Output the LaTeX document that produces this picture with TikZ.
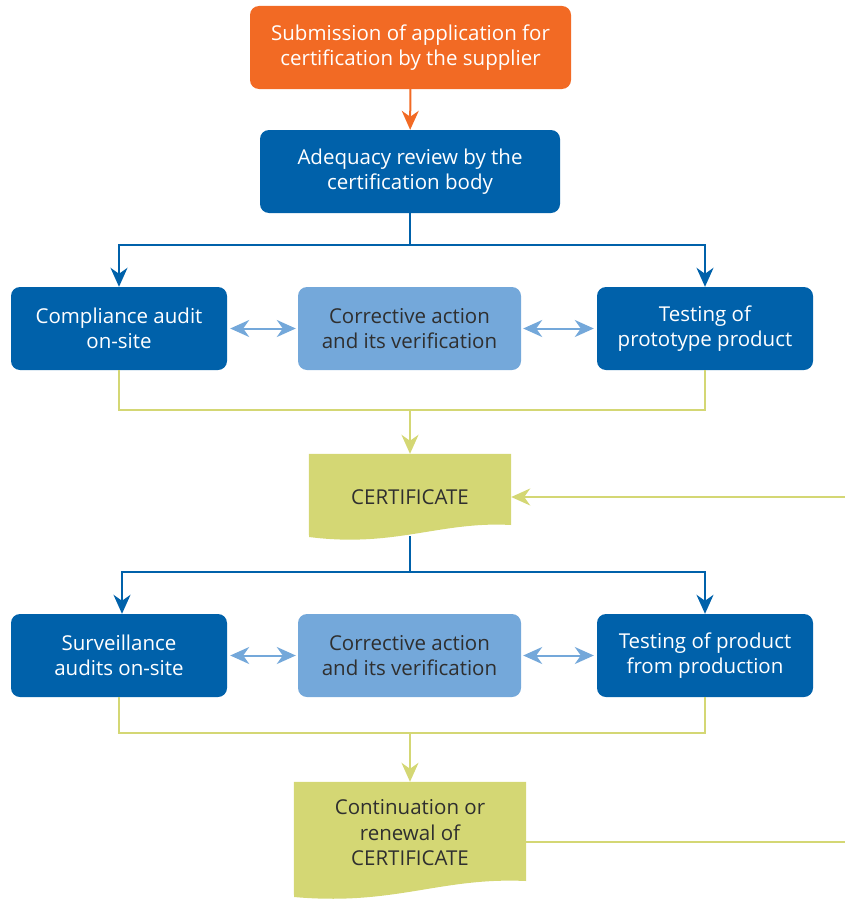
\documentclass[tikz,border=0pt]{standalone}
\usepackage{fontspec}
\setmainfont{Open Sans}
\usetikzlibrary{arrows.meta,backgrounds}
\definecolor{orangebox}{HTML}{F26A24}
\definecolor{darkbox}{HTML}{0061AA}
\definecolor{lightbox}{HTML}{74A8DA}
\definecolor{certbox}{HTML}{D4D774}
\definecolor{darktext}{HTML}{2F2F2F}
\tikzset{
  bigtip/.tip={Stealth[length=19pt,width=17pt,inset=6pt]},
  box/.style={rectangle, rounded corners=9pt, minimum height=83pt, align=center,
    font=\fontsize{20.5}{25.5}\selectfont, inner sep=2pt},
  orangestep/.style={box, fill=orangebox, text=white, minimum width=321pt},
  darkstep/.style={box, fill=darkbox, text=white, minimum width=216pt},
  lightstep/.style={box, fill=lightbox, text=darktext, minimum width=223pt},
  docnode/.style={rectangle, align=center, text=darktext,
    font=\fontsize{20.5}{25.5}\selectfont, inner sep=0pt},
  blueline/.style={draw=darkbox, line width=2pt},
  bluearrow/.style={blueline, -bigtip},
  orangearrow/.style={draw=orangebox, line width=2pt, -bigtip},
  yellowline/.style={draw=certbox, line width=2pt},
  yellowarrow/.style={yellowline, -bigtip},
  twoway/.style={draw=lightbox, line width=2pt, bigtip-bigtip},
}
\begin{document}
\begin{tikzpicture}[x=1pt,y=-1pt]
  \useasboundingbox (0,0) rectangle (845,899);
  % top of the chart
  \node[orangestep] (apply) at (410.5,47.5) {Submission of application for\\certification by the supplier};
  \node[darkstep, minimum width=300pt] (review) at (410,171.5) {Adequacy review by the\\certification body};
  % first row
  \node[darkstep] (audit) at (119,328.5) {Compliance audit\\on-site};
  \node[lightstep] (fix1) at (409.5,328.5) {Corrective action\\and its verification};
  \node[darkstep] (proto) at (705,328.5) {Testing of\\prototype product};
  % certificate
  \node[docnode, minimum width=202pt, minimum height=86pt] (cert) at (410,497) {CERTIFICATE};
  % second row
  \node[darkstep] (surv) at (119,655.5) {Surveillance\\audits on-site};
  \node[lightstep] (fix2) at (409.5,655.5) {Corrective action\\and its verification};
  \node[darkstep] (prod) at (705,655.5) {Testing of product\\from production};
  % renewal
  \node[docnode, minimum width=232pt, minimum height=102pt] (renew) at (410,833) {Continuation or\\renewal of\\CERTIFICATE};
  \begin{scope}[on background layer]
    \fill[certbox] (cert.north west) -- (cert.north east) -- (511,525)
      .. controls (440,521) and (395,548) .. (309,537) -- cycle;
    \fill[certbox] (renew.north west) -- (renew.north east) -- (526,881)
      .. controls (440,877) and (395,906) .. (294,897) -- cycle;
  \end{scope}
  \coordinate (certin) at (845,497);
  \coordinate (renewout) at (526,842);
  \coordinate (certout) at (410,536);
  \draw[orangearrow] (apply) -- (review);
  \draw[blueline] (review.south) -- ++(0,32) coordinate (split1);
  \draw[bluearrow] (split1) -| (audit.north);
  \draw[bluearrow] (split1) -| (proto.north);
  \draw[twoway] ([xshift=3pt]audit.east) -- ([xshift=-2pt]fix1.west);
  \draw[twoway] ([xshift=2pt]fix1.east) -- ([xshift=-3pt]proto.west);
  \draw[yellowline] (audit.south) -- ++(0,40) -| (proto.south);
  \draw[yellowarrow] (410,410) -- (cert.north);
  \draw[yellowarrow] (certin) -- (cert.east);
  \draw[blueline] (certout) -- (410,572) coordinate (split2);
  \draw[bluearrow] (split2) -| ([xshift=3pt]surv.north);
  \draw[bluearrow] (split2) -| (prod.north);
  \draw[twoway] ([xshift=3pt]surv.east) -- ([xshift=-2pt]fix2.west);
  \draw[twoway] ([xshift=2pt]fix2.east) -- ([xshift=-3pt]prod.west);
  \draw[yellowline] (surv.south) -- ++(0,36) -| (prod.south);
  \draw[yellowarrow] (410,733) -- (renew.north);
  \draw[yellowline] (renewout) -- (845,842);
\end{tikzpicture}
\end{document}
